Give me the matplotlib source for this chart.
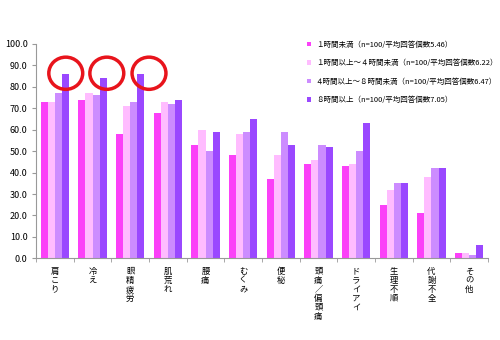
import matplotlib
matplotlib.use('Agg')
import matplotlib.pyplot as plt
from matplotlib.patches import Ellipse
import numpy as np

plt.rcParams['font.family'] = ['Noto Sans CJK JP', 'DejaVu Sans']

categories = ['肩こり', '冷え', '眼精疲労', '肌荒れ', '腰痛', 'むくみ', '便秘',
              '頭痛／偏頭痛', 'ドライアイ', '生理不順', '代謝不全', 'その他']
under1 = [73, 74, 58, 68, 53, 48, 37, 44, 43, 25, 21, 2.5]
h1to4 = [73, 77, 71, 73, 60, 58, 48, 46, 44, 32, 38, 2.5]
h4to8 = [77, 76, 73, 72, 50, 59, 59, 53, 50, 35, 42, 1.5]
over8 = [86, 84, 86, 74, 59, 65, 53, 52, 63, 35, 42, 6.3]
labels = ['１時間未満（n=100/平均回答個数5.46）',
          '１時間以上～４時間未満（n=100/平均回答個数6.22）',
          '４時間以上～８時間未満（n=100/平均回答個数6.47）',
          '８時間以上（n=100/平均回答個数7.05）']
colors = ['#fb40f8', '#ffbcff', '#cc8cff', '#9a48ff']
circled = [0, 1, 2]

fig = plt.figure(figsize=(5, 3.4), dpi=100)
ax = fig.add_axes([0.072, 0.24, 0.904, 0.631])

x = np.arange(len(categories))
w = 0.1875
handles = []
for i, (vals, c) in enumerate(zip([under1, h1to4, h4to8, over8], colors)):
    b = ax.bar(x + (i - 1.5) * w, vals, w, color=c, label=labels[i])
    handles.append(b)

# red circles round the top three
for k, cx in zip(circled, [0.29, 1.38, 2.5]):
    ax.add_patch(Ellipse((cx, 86.3), 0.9, 15.0, fill=False,
                         edgecolor='#e8141c', linewidth=2.5, zorder=5))

ax.set_xlim(-0.5, len(categories) - 0.5)
ax.set_ylim(0, 100)
ax.set_yticks(np.arange(0, 101, 10))
ax.set_yticklabels([f'{v:.1f}' for v in np.arange(0, 101, 10)], fontsize=6.5)
ax.set_xticks(x)
ax.set_xticklabels(['\n'.join(c) for c in categories], fontsize=6,
                   va='top', linespacing=1.0)
ax.tick_params(axis='x', length=0, pad=6)
ax.set_xticks(np.arange(-0.5, len(categories)), minor=True)
ax.tick_params(axis='x', which='minor', length=3, color='#999999')
ax.tick_params(axis='y', length=3, color='#999999', pad=3)
for s in ['top', 'right']:
    ax.spines[s].set_visible(False)
for s in ['left', 'bottom']:
    ax.spines[s].set_color('#999999')
    ax.spines[s].set_linewidth(0.8)

fig.legend(handles=handles, loc='upper left', bbox_to_anchor=(0.6, 0.9),
           frameon=False, fontsize=5.4, handlelength=0.6, handleheight=0.6,
           handletextpad=0.6, labelspacing=1.4)

fig.savefig('out.png', dpi=100)
